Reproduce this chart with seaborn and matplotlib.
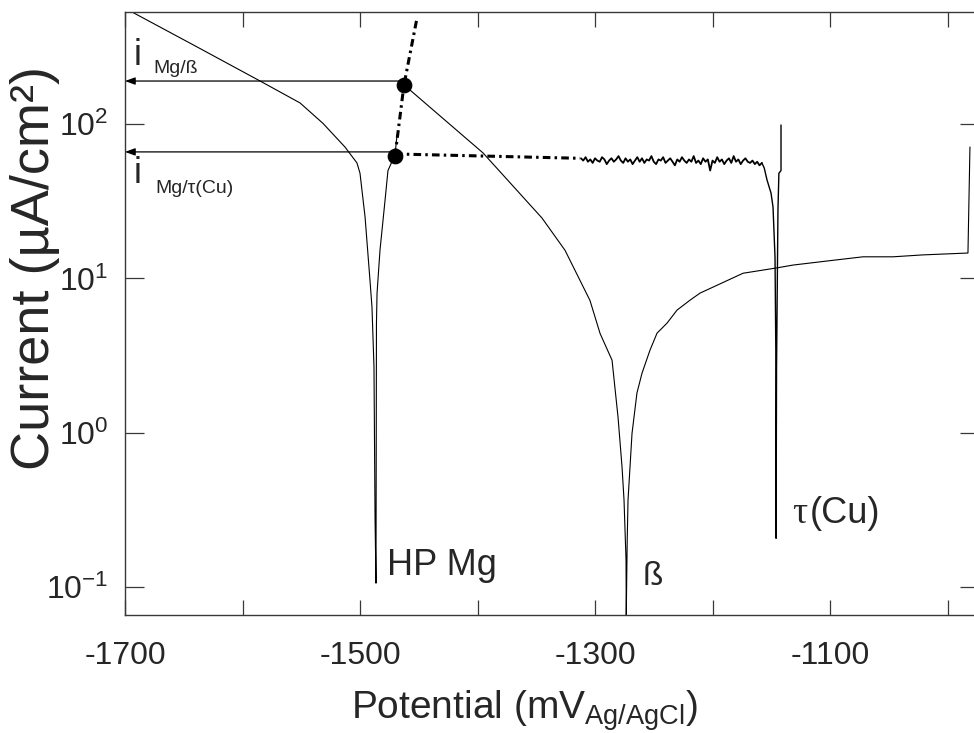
import numpy as np
import pandas as pd
import matplotlib
matplotlib.use("Agg")
import matplotlib.pyplot as plt
import seaborn as sns
from matplotlib.ticker import FixedLocator, LogLocator, NullLocator, LogFormatterSciNotation

# ---------------- data ----------------
# HP Mg polarisation curve (cathodic branch down to Ecorr, then anodic branch)
hpmg_E = [-1694, -1640, -1585, -1551, -1531.5, -1512.8, -1502.6, -1500, -1495.7,
          -1491.5, -1489.8, -1488.1, -1487.2, -1486.4,
          -1486.0, -1485.5, -1483, -1478.7, -1476.2, -1470.2, -1468.5]
hpmg_i = [532, 320, 190, 137, 101, 71, 56, 48, 25,
          9.7, 6.5, 2.66, 0.28, 0.106,
          5.1, 8.0, 15.2, 32, 50, 63, 85]

# beta phase polarisation curve
beta_E = [-1462.6, -1457.4, -1395.3, -1345.1, -1325.5, -1304.3, -1295.7, -1285.5,
          -1280.4, -1277.0, -1275.3, -1273.6, -1273.4,
          -1272.6, -1271.9, -1268.5, -1264.3, -1260.0, -1253.2, -1247.2, -1238.7,
          -1230.2, -1219.1, -1210.6, -1174.0, -1145.1, -1131.5, -1097.4, -1071.9,
          -1046.4, -1020.9, -982.6, -980.9]
beta_i = [179, 166, 65, 24.6, 15.2, 7.2, 4.4, 2.95,
          1.26, 0.60, 0.366, 0.149, 0.066,
          0.2, 0.366, 0.99, 1.81, 2.43, 3.43, 4.42, 5.13,
          6.23, 7.23, 8.03, 10.8, 11.7, 12.2, 13.1, 13.8,
          13.8, 14.2, 14.6, 71]

# tau(Cu) cathodic plateau (noisy), sampled every 2 mV from -1312 to -1158 mV
tau_noise_i = [60, 58, 61, 57, 59, 56, 60, 58, 57, 61, 59, 55, 58, 60, 57, 59, 62, 58, 56, 60,
               57, 59, 55, 58, 61, 57, 60, 56, 59, 58, 62, 57, 55, 59, 58, 61, 56, 58, 60, 57,
               54, 59, 57, 61, 58, 56, 59, 57, 62, 56, 58, 55, 60, 57, 59, 50, 58, 56, 61, 57,
               59, 55, 58, 60, 56, 62, 57, 59, 55, 58, 60, 57, 56, 58, 55, 57, 54, 56]
tau_noise_E = list(np.arange(-1312, -1157, 2))
# tau(Cu) drop to Ecorr and anodic rise
tau_tail_E = [-1156.0, -1153.6, -1150.2, -1148.5, -1146.8, -1146.0, -1145.9,
              -1145.5, -1144.3, -1143.5, -1141.7, -1141.7]
tau_tail_i = [52, 43.4, 35.7, 29, 13.7, 2.66, 0.207,
              2.66, 27.7, 48, 50, 98.6]

# Tafel extrapolations (dash-dot)
extrap_mg_E = [-1470.2, -1462.6, -1451.5]
extrap_mg_i = [62, 179, 486]
extrap_tau_E = [-1470.2, -1312.8]
extrap_tau_i = [64, 60]

# intersection points and the read-off currents
dots_E = [-1462.6, -1470.2]
dots_i = [179, 62]
arrow_i = [190, 66]
arrow_E0 = [-1460.5, -1472.0]

x_major = [-1700, -1500, -1300, -1100]
x_minor = [-1600, -1400, -1200, -1000]
xlim = (-1700, -973.2)
ylim = (10 ** -1.181, 10 ** 2.728)

# ---------------- style ----------------
sns.set_style("ticks")
plt.rcParams["font.family"] = ["Liberation Sans", "DejaVu Sans"]
plt.rcParams["mathtext.fontset"] = "custom"
plt.rcParams["mathtext.rm"] = "Liberation Sans"
plt.rcParams["mathtext.it"] = "Liberation Sans:italic"
plt.rcParams["mathtext.bf"] = "Liberation Sans:bold"
plt.rcParams["axes.unicode_minus"] = False
plt.rcParams["lines.scale_dashes"] = False

W, H = 974, 733
fig = plt.figure(figsize=(W / 100, H / 100), dpi=100)
L, R, T, B = 125, 979, 11.7, 615
ax = fig.add_axes([L / W, 1 - B / H, (R - L) / W, (B - T) / H])
ax.set_yscale("log")

def line(E, I, lw, ls="-"):
    df = pd.DataFrame({"E": E, "i": I})
    sns.lineplot(data=df, x="E", y="i", sort=False, estimator=None, color="black",
                 linewidth=lw, linestyle=ls, ax=ax, legend=False)

dashdot = (0, (5.5, 3.0, 1.8, 3.0))
line(hpmg_E, hpmg_i, 0.8)
line(beta_E, beta_i, 0.8)
line(tau_noise_E, tau_noise_i, 1.3)
line([tau_noise_E[-1]] + tau_tail_E, [tau_noise_i[-1]] + tau_tail_i, 1.0)
line(extrap_mg_E, extrap_mg_i, 2.2, dashdot)
line(extrap_tau_E, extrap_tau_i, 2.2, dashdot)

sns.scatterplot(x=dots_E, y=dots_i, color="black", s=110, edgecolor="black", zorder=5, ax=ax)

for e0, ii in zip(arrow_E0, arrow_i):
    ax.annotate("", xy=(xlim[0], ii), xytext=(e0, ii),
                arrowprops=dict(arrowstyle="-|>,head_length=0.6,head_width=0.22",
                                color="black", lw=0.9, shrinkA=0, shrinkB=0))

ax.set_xlim(*xlim)
ax.set_ylim(*ylim)
ax.xaxis.set_major_locator(FixedLocator(x_major))
ax.xaxis.set_minor_locator(FixedLocator(x_minor))
ax.yaxis.set_major_locator(LogLocator(base=10, numticks=10))
ax.yaxis.set_minor_locator(NullLocator())
ax.yaxis.set_major_formatter(LogFormatterSciNotation())

spc = "#383838"
for s in ax.spines.values():
    s.set_color(spc)
    s.set_linewidth(1.0)
ax.tick_params(axis="x", which="both", direction="in", top=True, bottom=True,
               length=10.8, width=0.9, color=spc, labelsize=23, pad=19)
ax.tick_params(axis="y", which="both", direction="in", left=True, right=True,
               length=13.7, width=0.9, color=spc, labelsize=23, pad=12)

ax.set_xlabel(r"Potential (mV$_{\mathregular{Ag/AgCl}}$)", fontsize=28)
ax.xaxis.set_label_coords((525 - L) / (R - L), -0.122)
ax.set_ylabel("Current (\u00b5A/cm\u00b2)", fontsize=39)
ax.yaxis.set_label_coords((60 - L) / (R - L), (B - 268) / (B - T))

def ftext(x, y, s, size, **kw):
    fig.text(x / W, 1 - y / H, s, fontsize=size, va="baseline", ha="left", **kw)

ftext(387, 575, "HP Mg", 26)
ftext(643, 585, "\u00df", 24)
ftext(792, 523, "\u03c4", 27, family=["Liberation Serif", "DejaVu Serif"])
ftext(810, 523, "(Cu)", 26)
ftext(134, 65, "i", 26)
ftext(153, 73, "Mg/\u00df", 14)
ftext(134, 183, "i", 26)
ftext(155, 193, "Mg/\u03c4(Cu)", 14)

fig.savefig("out.png", dpi=100, facecolor="white")
